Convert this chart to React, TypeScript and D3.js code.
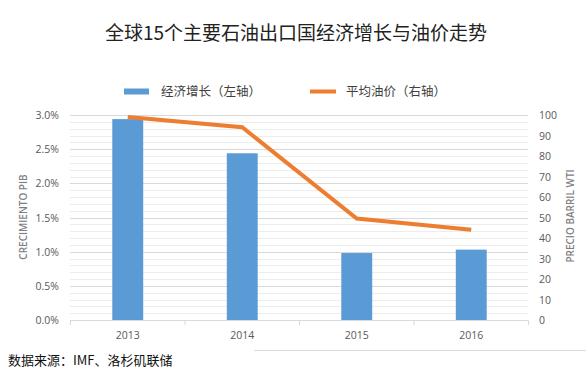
import * as d3 from 'd3';

const years = ['2013', '2014', '2015', '2016'];
const gdpGrowth = [0.0294, 0.0244, 0.0098, 0.0103];
const oilPrice = [99, 94, 49.5, 44];
const leftTicks = [0, 0.005, 0.01, 0.015, 0.02, 0.025, 0.03];
const rightTicks = [0, 10, 20, 30, 40, 50, 60, 70, 80, 90, 100];

const W = 586;
const H = 373;
const cjk = '"Noto Sans CJK SC", "Noto Sans", sans-serif';
const latin = '"Open Sans", "Noto Sans", sans-serif';

export default function App() {
  const x = d3.scaleBand<string>().domain(years).range([70.5, 528.5]);
  const yL = d3.scaleLinear().domain([0, 0.03]).range([320, 115]);
  const yR = d3.scaleLinear().domain([0, 100]).range([320, 115]);
  const barW = x.bandwidth() * 0.27;
  const cx = (d: string) => (x(d) as number) + x.bandwidth() / 2;

  const minor = d3.range(1, 31).map((i) => i * 0.001);
  const line = d3
    .line<number>()
    .x((_, i) => cx(years[i]))
    .y((d) => yR(d));

  const bounds = [...years.map((d) => x(d) as number), x.range()[1]];

  return (
    <svg
      width={W}
      height={H}
      style={{ position: 'absolute', left: 0, top: 0, background: '#fff' }}
    >
      <text x={296} y={40} textAnchor="middle" fontFamily={cjk} fontSize={19} fill="#222">
        全球15个主要石油出口国经济增长与油价走势
      </text>

      {/* legend */}
      <rect x={124} y={88.5} width={25} height={6} fill="#5B9BD5" />
      <text x={161} y={96} fontFamily={cjk} fontSize={12.5} fill="#404040">
        经济增长（左轴）
      </text>
      <line x1={310} x2={336} y1={91.5} y2={91.5} stroke="#ED7D31" strokeWidth={4} />
      <text x={346} y={96} fontFamily={cjk} fontSize={12.5} fill="#404040">
        平均油价（右轴）
      </text>

      {/* grid */}
      {minor.map((v, i) => (
        <line
          key={i}
          x1={70}
          x2={528}
          y1={Math.round(yL(v)) + 0.5}
          y2={Math.round(yL(v)) + 0.5}
          stroke={(i + 1) % 5 === 0 ? '#d9d9d9' : '#ededed'}
          strokeWidth={1}
        />
      ))}

      {/* x axis */}
      <line x1={70} x2={528.5} y1={320.5} y2={320.5} stroke="#d9d9d9" />
      {bounds.map((b, i) => (
        <line key={i} x1={b} x2={b} y1={320.5} y2={325} stroke="#d9d9d9" />
      ))}
      {years.map((d) => (
        <text key={d} x={cx(d)} y={339} textAnchor="middle" fontFamily={latin} fontSize={10.5} fill="#595959">
          {d}
        </text>
      ))}

      {/* bars */}
      {years.map((d, i) => (
        <rect
          key={d}
          x={cx(d) - barW / 2}
          y={yL(gdpGrowth[i])}
          width={barW}
          height={yL(0) - yL(gdpGrowth[i])}
          fill="#5B9BD5"
        />
      ))}

      {/* line */}
      <path d={line(oilPrice) ?? ''} fill="none" stroke="#ED7D31" strokeWidth={4} />

      {/* left axis */}
      {leftTicks.map((t) => (
        <text key={t} x={59} y={yL(t) + 4} textAnchor="end" fontFamily={latin} fontSize={10.5} fill="#595959">
          {d3.format('.1%')(t)}
        </text>
      ))}
      <text
        transform="translate(27,217) rotate(-90)"
        textAnchor="middle"
        fontFamily={latin}
        fontSize={10}
        fontWeight={600}
        fill="#7f7f7f"
      >
        CRECIMIENTO PIB
      </text>

      {/* right axis */}
      {rightTicks.map((t) => (
        <text key={t} x={539} y={yR(t) + 4} fontFamily={latin} fontSize={10.5} fill="#595959">
          {t}
        </text>
      ))}
      <text
        transform="translate(574,216) rotate(-90)"
        textAnchor="middle"
        fontFamily={latin}
        fontSize={10}
        fontWeight={600}
        fill="#7f7f7f"
      >
        PRECIO BARRIL WTI
      </text>

      {/* frame bottom */}
      <line x1={254} x2={586} y1={350.5} y2={350.5} stroke="#d9d9d9" />

      <text x={8} y={365} fontFamily={cjk} fontSize={13} fill="#111">
        数据来源：IMF、洛杉矶联储
      </text>
    </svg>
  );
}
